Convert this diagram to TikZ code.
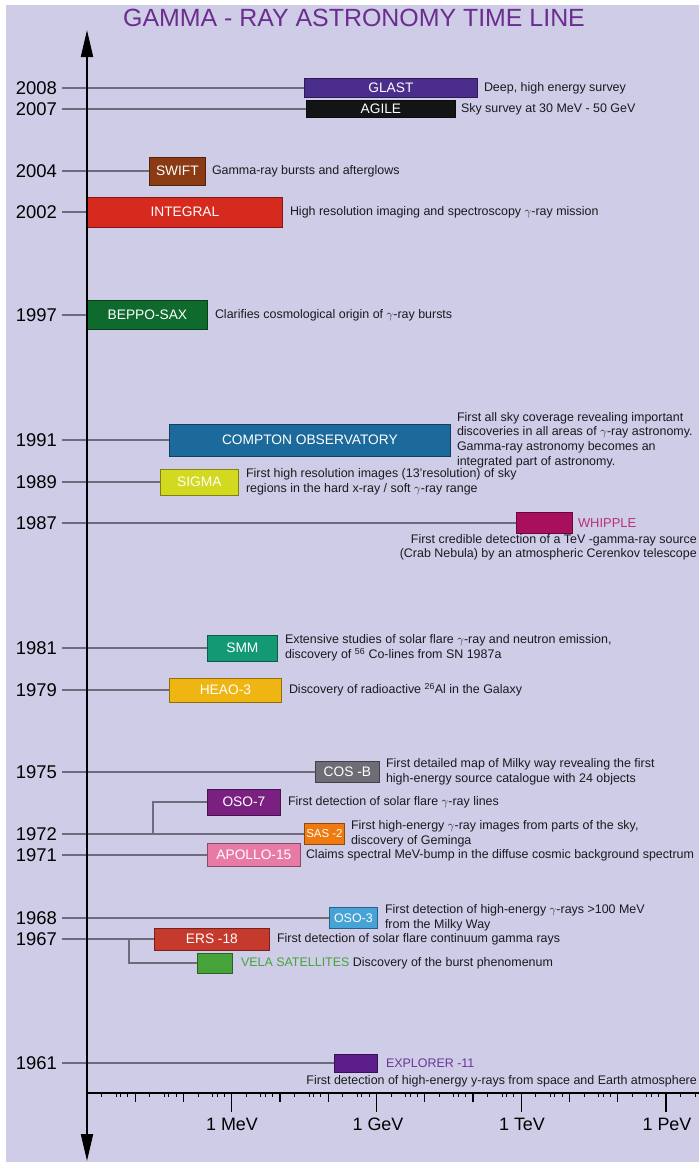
\documentclass[tikz,border=0pt]{standalone}
\usepackage{fontspec}
\setmainfont{Liberation Sans}
\usetikzlibrary{positioning}
\usetikzlibrary{arrows.meta}

\definecolor{bgviolet}{HTML}{CFCCE7}
\definecolor{titleviolet}{HTML}{6B2D8E}
\definecolor{linegray}{HTML}{6E6C7C}
\definecolor{txtgray}{HTML}{1A1A1E}
\definecolor{glastc}{HTML}{4B2E8C}
\definecolor{agilec}{HTML}{141414}
\definecolor{swiftc}{HTML}{8B3B14}
\definecolor{integralc}{HTML}{D62A1F}
\definecolor{beppoc}{HTML}{0F6A2E}
\definecolor{comptonc}{HTML}{1C6A9C}
\definecolor{sigmac}{HTML}{D2D91E}
\definecolor{whipplec}{HTML}{A80F5C}
\definecolor{smmc}{HTML}{139A74}
\definecolor{heaoc}{HTML}{EFB512}
\definecolor{cosbc}{HTML}{6E6D75}
\definecolor{ososeven}{HTML}{7A2080}
\definecolor{sastwo}{HTML}{EF7A10}
\definecolor{apolloc}{HTML}{E87BA6}
\definecolor{osothree}{HTML}{45A3D6}
\definecolor{ersc}{HTML}{C63A2E}
\definecolor{velac}{HTML}{45A33A}
\definecolor{explorerc}{HTML}{5B1E8B}

\tikzset{
  year/.style={anchor=east, inner sep=0pt, font=\fontsize{18.5}{18.5}\selectfont},
  yearline/.style={draw=linegray, line width=2bp},
  mission/.style={draw=#1!60!black, line width=0.8bp, fill=#1, text=white,
    inner sep=0pt, anchor=west, font=\fontsize{13.8}{14}\selectfont},
  descr/.style={inner sep=0pt, align=left, text=txtgray,
    font=\fontsize{12.5}{14.7}\selectfont},
  energy/.style={below, inner sep=0pt, font=\fontsize{18}{18}\selectfont},
}

\begin{document}
\begin{tikzpicture}[x=1bp, y=-1bp]
    \useasboundingbox (0,0) rectangle (699,1162);
    \fill[bgviolet] (6,5) rectangle (699,1162);

    \node[text=titleviolet, font=\fontsize{25}{25}\selectfont] (title) at (354,18)
      {GAMMA - RAY ASTRONOMY TIME LINE};

    \node[year] (y2008) at (57,88) {2008};
    \node[year] (y2007) at (57,109) {2007};
    \node[year] (y2004) at (57,171) {2004};
    \node[year] (y2002) at (57,212) {2002};
    \node[year] (y1997) at (57,315) {1997};
    \node[year] (y1991) at (57,440) {1991};
    \node[year] (y1989) at (57,482) {1989};
    \node[year] (y1987) at (57,523) {1987};
    \node[year] (y1981) at (57,648) {1981};
    \node[year] (y1979) at (57,690) {1979};
    \node[year] (y1975) at (57,772) {1975};
    \node[year] (y1972) at (57,834) {1972};
    \node[year] (y1971) at (57,855) {1971};
    \node[year] (y1968) at (57,918) {1968};
    \node[year] (y1967) at (57,939) {1967};
    \node[year] (y1961) at (57,1063) {1961};

    \node[mission=glastc, minimum width=173bp, minimum height=19bp] (glast) at (304,88) {GLAST};
    \node[mission=agilec, minimum width=149bp, minimum height=17bp] (agile) at (306,109) {AGILE};
    \node[mission=swiftc, minimum width=56bp, minimum height=28bp] (swift) at (149,171) {SWIFT};
    \node[mission=integralc, minimum width=195bp, minimum height=30bp] (integral) at (87,212) {INTEGRAL};
    \node[mission=beppoc, minimum width=120bp, minimum height=29bp] (beppo) at (87,315) {BEPPO-SAX};
    \node[mission=comptonc, minimum width=281bp, minimum height=32bp] (compton) at (169,440) {COMPTON OBSERVATORY};
    \node[mission=sigmac, minimum width=78bp, minimum height=26bp] (sigma) at (160,482) {SIGMA};
    \node[mission=whipplec, minimum width=56bp, minimum height=21bp] (whipple) at (516,523) {};
    \node[mission=smmc, minimum width=70bp, minimum height=26bp] (smm) at (207,648) {SMM};
    \node[mission=heaoc, minimum width=112bp, minimum height=24bp] (heao) at (169,690) {HEAO-3};
    \node[mission=cosbc, minimum width=64bp, minimum height=21bp] (cosb) at (315,772) {COS -B};
    \node[mission=ososeven, minimum width=73bp, minimum height=26bp] (oso7) at (207,802) {OSO-7};
    \node[mission=sastwo, minimum width=40bp, minimum height=21bp,
      font=\fontsize{11.5}{12}\selectfont] (sas2) at (304,834) {SAS -2};
    \node[mission=apolloc, minimum width=93bp, minimum height=23bp] (apollo) at (207,855) {APOLLO-15};
    \node[mission=osothree, minimum width=48bp, minimum height=21bp,
      font=\fontsize{12.5}{12}\selectfont] (oso3) at (329,918) {OSO-3};
    \node[mission=ersc, minimum width=115bp, minimum height=22bp] (ers) at (154,939) {ERS -18};
    \node[mission=velac, minimum width=35bp, minimum height=20bp] (vela) at (197,963) {};
    \node[mission=explorerc, minimum width=43bp, minimum height=18bp] (explorer) at (334,1063) {};

    \node[descr, right=6bp of glast] (glastd) {Deep, high energy survey};
    \node[descr, right=5bp of agile] (agiled) {Sky survey at 30 MeV - 50 GeV};
    \node[descr, right=6bp of swift] (swiftd) {Gamma-ray bursts and afterglows};
    \node[descr, right=7bp of integral] (integrald) {High resolution imaging and spectroscopy $\gamma$-ray mission};
    \node[descr, right=7bp of beppo] (beppod) {Clarifies cosmological origin of $\gamma$-ray bursts};
    \node[descr, right=6bp of compton] (comptond) {First all sky coverage revealing important\\
      discoveries in all areas of $\gamma$-ray astronomy.\\Gamma-ray astronomy becomes an\\integrated part of astronomy.};
    \node[descr, right=7bp of sigma] (sigmad) {First high resolution images (13'resolution) of sky\\
      regions in the hard x-ray / soft $\gamma$-ray range};
    \node[descr, right=5bp of whipple, text=whipplec!85!white, font=\fontsize{13}{13}\selectfont] (whipplel) {WHIPPLE};
    \node[descr, anchor=north east, align=right] (whippled) at (697,534) {First credible detection of a TeV -gamma-ray source\\
      (Crab Nebula) by an atmospheric Cerenkov telescope};
    \node[descr, right=7bp of smm] (smmd) {Extensive studies of solar flare $\gamma$-ray and neutron emission,\\
      discovery of \textsuperscript{56} Co-lines from SN 1987a};
    \node[descr, right=7bp of heao] (heaod) {Discovery of radioactive \textsuperscript{26}Al in the Galaxy};
    \node[descr, right=6bp of cosb] (cosbd) {First detailed map of Milky way revealing the first\\
      high-energy source catalogue with 24 objects};
    \node[descr, right=7bp of oso7] (oso7d) {First detection of solar flare $\gamma$-ray lines};
    \node[descr, right=6bp of sas2] (sas2d) {First high-energy $\gamma$-ray images from parts of the sky,\\discovery of Geminga};
    \node[descr, right=5bp of apollo] (apollod) {Claims spectral MeV-bump in the diffuse cosmic background spectrum};
    \node[descr, right=7bp of oso3] (oso3d) {First detection of high-energy $\gamma$-rays >100 MeV\\from the Milky Way};
    \node[descr, right=7bp of ers] (ersd) {First detection of solar flare continuum gamma rays};
    \node[descr, right=8bp of vela] (velad) {{\color{velac}VELA SATELLITES} Discovery of the burst phenomenum};
    \node[descr, right=8bp of explorer, text=explorerc!90!white, font=\fontsize{12.5}{12}\selectfont] (explorerl) {EXPLORER -11};
    \node[descr, anchor=east] (explorerd) at (697,1081) {First detection of high-energy y-rays from space and Earth atmosphere};

    \coordinate (b72) at (153,834);
    \coordinate (b67) at (129,939);

    \draw[yearline, shorten <=5bp] (y2008) -- (glast);
    \draw[yearline, shorten <=5bp] (y2007) -- (agile);
    \draw[yearline, shorten <=5bp] (y2004) -- (swift);
    \draw[yearline, shorten <=5bp] (y2002) -- (integral);
    \draw[yearline, shorten <=5bp] (y1997) -- (beppo);
    \draw[yearline, shorten <=5bp] (y1991) -- (compton);
    \draw[yearline, shorten <=5bp] (y1989) -- (sigma);
    \draw[yearline, shorten <=5bp] (y1987) -- (whipple);
    \draw[yearline, shorten <=5bp] (y1981) -- (smm);
    \draw[yearline, shorten <=5bp] (y1979) -- (heao);
    \draw[yearline, shorten <=5bp] (y1975) -- (cosb);
    \draw[yearline, shorten <=5bp] (y1972) -- (sas2);
    \draw[yearline] (b72) |- (oso7);
    \draw[yearline, shorten <=5bp] (y1971) -- (apollo);
    \draw[yearline, shorten <=5bp] (y1968) -- (oso3);
    \draw[yearline, shorten <=5bp] (y1967) -- (ers);
    \draw[yearline] (b67) |- (vela);
    \draw[yearline, shorten <=5bp] (y1961) -- (explorer);

    \coordinate (axtop) at (87,30);
    \coordinate (axbot) at (87,1161);
    \coordinate (origin) at (87,1093);
    \coordinate (axend) at (699,1093);
    \draw[line width=2bp, {Triangle[width=12bp,length=27bp]}-{Triangle[width=12bp,length=27bp]}] (axbot) -- (axtop);
    \draw[line width=2bp] (origin) -- (axend);
    \foreach \d in {0,...,12} {
      \draw[line width=1.2bp] (origin) ++(48.25*\d,0) -- ++(0,9);
      \foreach \m in {0.301,0.602,0.699,0.845}
        \draw[line width=1bp] (origin) ++(48.25*\d+48.25*\m,0) -- ++(0,4);
    }
    \foreach \d in {3,6,9,12}
      \draw[line width=1.2bp] (origin) ++(48.25*\d,0) -- ++(0,19);

    \node[energy] (mev) at (232,1118) {1 MeV};
    \node[energy] (gev) at (378,1118) {1 GeV};
    \node[energy] (tev) at (522,1118) {1 TeV};
    \node[energy] (pev) at (667,1118) {1 PeV};
  \end{tikzpicture}
\end{document}
